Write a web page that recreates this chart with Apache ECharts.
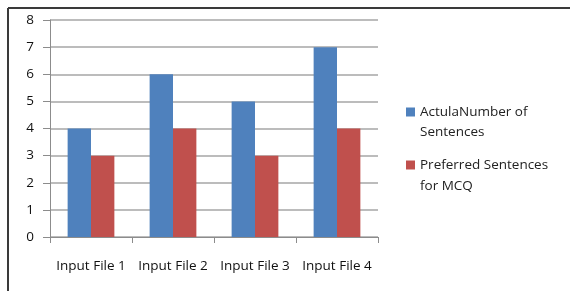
<!DOCTYPE html>
<html>
<head>
<meta charset="utf-8">
<script src="https://cdn.jsdelivr.net/npm/echarts@6/dist/echarts.min.js"></script>
<style>
  html, body { margin: 0; padding: 0; background: #fff; }
  #main { width: 571px; height: 291px; }
</style>
</head>
<body>
<div id="main"></div>
<script>
// chart data
var categories = ['Input File 1', 'Input File 2', 'Input File 3', 'Input File 4'];
var actualSentences = [4, 6, 5, 7];
var preferredSentences = [3, 4, 3, 4];
var seriesNames = ['ActulaNumber of', 'Preferred Sentences'];
var seriesNamesCont = ['Sentences', 'for MCQ']; // wrapped second lines of legend

var chart = echarts.init(document.getElementById('main'), null, { renderer: 'canvas' });

var labelFont = 'Open Sans';
var legendTextX = 420;

var option = {
  backgroundColor: '#ffffff',
  animation: false,
  color: ['#4F81BD', '#C0504D'],
  grid: {
    left: 50,
    top: 20,
    width: 328,
    height: 217,
    containLabel: false
  },
  legend: {
    orient: 'vertical',
    left: 401,
    top: 97,
    itemWidth: 9,
    itemHeight: 9,
    itemGap: 33,
    icon: 'rect',
    textStyle: {
      fontFamily: labelFont,
      fontSize: 13.5,
      color: '#222',
      lineHeight: 20
    },
    data: seriesNames
  },
  xAxis: {
    type: 'category',
    data: categories,
    axisLine: { lineStyle: { color: '#8c8c8c', width: 1 } },
    axisTick: { show: true, length: 6, alignWithLabel: false, lineStyle: { color: '#8c8c8c' } },
    axisLabel: {
      fontFamily: labelFont,
      fontSize: 13.5,
      color: '#111',
      margin: 22,
      interval: 0
    }
  },
  yAxis: {
    type: 'value',
    min: 0,
    max: 8,
    interval: 1,
    axisLine: { show: true, lineStyle: { color: '#8c8c8c', width: 1 } },
    axisTick: { show: true, length: 7, lineStyle: { color: '#8c8c8c' } },
    splitLine: { lineStyle: { color: '#a6a6a6', width: 1.5 } },
    axisLabel: {
      fontFamily: labelFont,
      fontSize: 13.5,
      color: '#111',
      margin: 16
    }
  },
  series: [
    {
      name: seriesNames[0],
      type: 'bar',
      data: actualSentences,
      barGap: '0%',
      barCategoryGap: '43%',
      itemStyle: { color: '#4F81BD' }
    },
    {
      name: seriesNames[1],
      type: 'bar',
      data: preferredSentences,
      barGap: '0%',
      barCategoryGap: '43%',
      itemStyle: { color: '#C0504D' }
    }
  ],
  graphic: [
    // frame around the figure (top + left edges visible)
    {
      type: 'line',
      shape: { x1: 8, y1: 8, x2: 570, y2: 8 },
      style: { stroke: '#3a3a3a', lineWidth: 2 }
    },
    {
      type: 'line',
      shape: { x1: 8, y1: 8, x2: 8, y2: 291 },
      style: { stroke: '#3a3a3a', lineWidth: 2 }
    },
    // second lines of the wrapped legend labels
    {
      type: 'text',
      x: legendTextX,
      y: 132,
      style: {
        text: seriesNamesCont[0],
        font: '13.5px "Open Sans"',
        fill: '#222',
        verticalAlign: 'middle'
      }
    },
    {
      type: 'text',
      x: legendTextX,
      y: 186,
      style: {
        text: seriesNamesCont[1],
        font: '13.5px "Open Sans"',
        fill: '#222',
        verticalAlign: 'middle'
      }
    }
  ]
};

chart.setOption(option);
</script>
</body>
</html>
